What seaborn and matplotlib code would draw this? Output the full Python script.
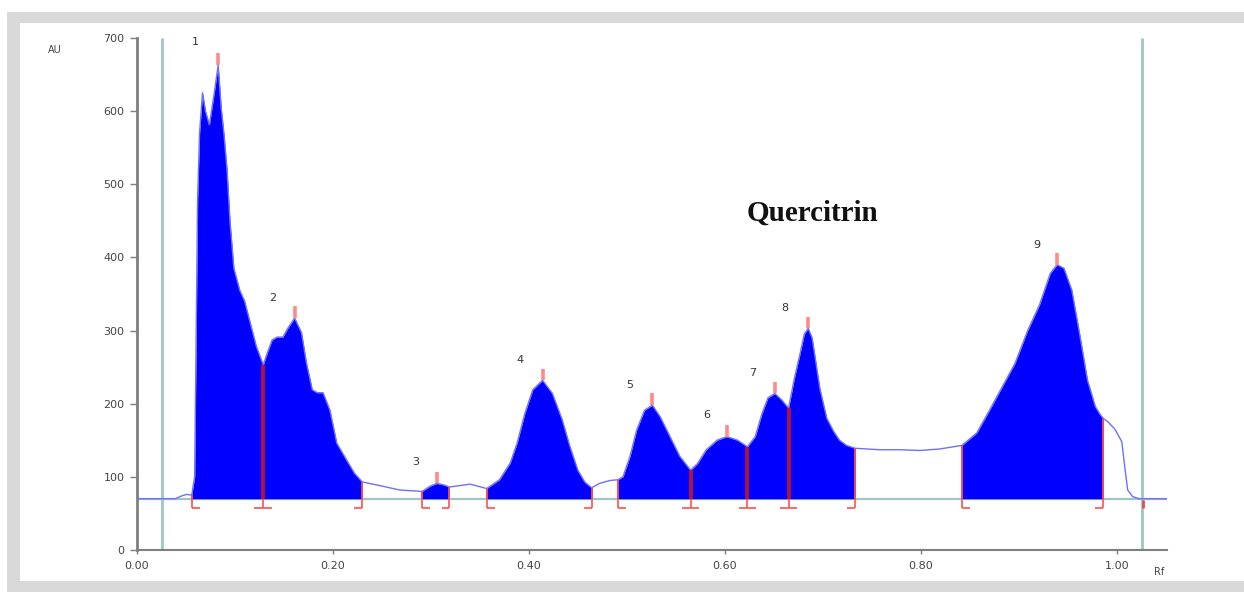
import numpy as np
import pandas as pd
import seaborn as sns
import matplotlib.pyplot as plt
from matplotlib.patches import Rectangle

# densitogram trace (Rf, AU)
rf = [0.000, 0.039, 0.046, 0.051, 0.056, 0.059, 0.062, 0.064, 0.067, 0.070,
      0.074, 0.079, 0.083, 0.086, 0.089, 0.092, 0.095, 0.099, 0.105, 0.110,
      0.115, 0.122, 0.129, 0.133, 0.138, 0.143, 0.149, 0.154, 0.161, 0.168,
      0.173, 0.179, 0.184, 0.190, 0.197, 0.204, 0.214, 0.222, 0.230, 0.248,
      0.268, 0.291, 0.299, 0.306, 0.313, 0.319, 0.340, 0.357, 0.370, 0.381,
      0.388, 0.396, 0.404, 0.414, 0.424, 0.434, 0.442, 0.450, 0.457, 0.464,
      0.472, 0.483, 0.491, 0.496, 0.503, 0.510, 0.518, 0.526, 0.534, 0.544,
      0.554, 0.565, 0.572, 0.581, 0.592, 0.602, 0.613, 0.623, 0.631, 0.638,
      0.644, 0.651, 0.658, 0.665, 0.671, 0.677, 0.681, 0.685, 0.689, 0.693,
      0.697, 0.704, 0.711, 0.717, 0.724, 0.733, 0.758, 0.779, 0.799, 0.819,
      0.842, 0.857, 0.870, 0.883, 0.896, 0.909, 0.921, 0.932, 0.939, 0.946,
      0.954, 0.962, 0.970, 0.978, 0.983, 0.986, 0.991, 0.998, 1.005, 1.008,
      1.011, 1.016, 1.023, 1.051]
au = [70, 70, 74, 76, 75, 100, 480, 570, 625, 600,
      581, 625, 663, 605, 567, 520, 450, 385, 355, 340,
      314, 278, 253, 269, 287, 291, 291, 303, 317, 297,
      256, 219, 215, 215, 191, 146, 123, 105, 93, 88,
      82, 80, 87, 91, 89, 86, 90, 84, 96, 119,
      146, 187, 219, 232, 214, 178, 141, 109, 93, 85,
      91, 95, 96, 100, 127, 164, 191, 198, 182, 155,
      128, 109, 118, 137, 150, 155, 150, 141, 155, 187,
      208, 214, 205, 194, 235, 270, 295, 303, 290, 255,
      220, 180, 162, 150, 143, 139, 137, 137, 136, 138,
      143, 160, 191, 223, 255, 300, 335, 378, 390, 385,
      355, 295, 232, 196, 185, 180, 175, 165, 148, 114,
      82, 73, 70, 70]

baseline = 70
fill_ranges = [(0.056, 0.230), (0.291, 0.319), (0.357, 0.464), (0.491, 0.733), (0.842, 0.986)]
bounds = [0.056, 0.129, 0.230, 0.291, 0.319, 0.357, 0.464, 0.491, 0.565, 0.623, 0.665, 0.733, 0.842, 0.986]
bound_kind = ['start', 'shared', 'end', 'start', 'end', 'start', 'end', 'start',
              'shared', 'shared', 'shared', 'end', 'start', 'end']
peak_rf = [0.083, 0.161, 0.306, 0.414, 0.526, 0.602, 0.651, 0.685, 0.939]
peak_au = [663, 317, 91, 232, 198, 155, 214, 303, 390]
peak_num = ['1', '2', '3', '4', '5', '6', '7', '8', '9']
num_rf = [0.060, 0.139, 0.285, 0.391, 0.503, 0.582, 0.628, 0.661, 0.918]
num_au = [695, 345, 120, 260, 226, 185, 242, 331, 417]

df = pd.DataFrame({'rf': rf, 'au': au})

sns.set_style('white')
fig = plt.figure(figsize=(12.44, 5.92), dpi=100)

# grey frame of the screenshot
frame = '#d9d9d9'
for x0, y0, w, h in [(0.0056, 0.961, 0.9944, 0.019), (0.0056, 0.0, 0.0105, 0.98), (0.0056, 0.0, 0.9944, 0.0186)]:
    fig.add_artist(Rectangle((x0, y0), w, h, transform=fig.transFigure, color=frame, lw=0, zorder=0))

ax = fig.add_axes([0.110, 0.071, 0.828, 0.865])

teal = '#9fc6c1'
ax.hlines(baseline, 0, 1.051, color=teal, lw=1.6, zorder=1)
ax.vlines([0.0255, 1.0255], 0, 700, color=teal, lw=2, zorder=1)

x = np.array(rf)
y = np.array(au)
for a, b in fill_ranges:
    m = (x >= a - 1e-9) & (x <= b + 1e-9)
    ax.fill_between(x, baseline, y, where=m, color='#0000ff', lw=0, zorder=2)

sns.lineplot(data=df, x='rf', y='au', color='#6f6fff', lw=1, estimator=None, sort=False, ax=ax, zorder=3)

# integration boundaries
for b, kind in zip(bounds, bound_kind):
    v = y[np.argmin(np.abs(x - b))]
    if kind == 'shared':
        ax.vlines(b, baseline, v, color='#b3103c', lw=2.8, zorder=4)
    else:
        ax.vlines(b, baseline, v, color='#f04a55', lw=1.4, zorder=4)
    ax.vlines(b, 57, baseline, color='#ff4f4f', lw=1.2, zorder=4)
    if kind == 'start':
        ax.hlines(57, b, b + 0.008, color='#ff4f4f', lw=1.2, zorder=4)
    elif kind == 'end':
        ax.hlines(57, b - 0.008, b, color='#ff4f4f', lw=1.2, zorder=4)
    else:
        ax.hlines(57, b - 0.009, b + 0.009, color='#ff4f4f', lw=1.2, zorder=4)
ax.vlines(1.0265, 57, 68, color='#e05050', lw=2, zorder=4)

# peak maxima ticks and numbers
ax.vlines(peak_rf, peak_au, np.array(peak_au) + 16, color='#ff8a8a', lw=2.6, zorder=4)
for r, v, n in zip(num_rf, num_au, peak_num):
    ax.text(r, v, n, fontsize=8, color='#333333', ha='center', va='center')

ax.text(0.689, 461, 'Quercitrin', fontfamily='Liberation Serif', fontweight='bold',
        fontsize=21, color='#111111', ha='center', va='center')

ax.set_xlim(0, 1.051)
ax.set_ylim(0, 700)
ax.set_xticks([0, 0.2, 0.4, 0.6, 0.8, 1.0])
ax.set_xticklabels(['0.00', '0.20', '0.40', '0.60', '0.80', '1.00'])
ax.set_yticks(range(0, 701, 100))
ax.set_xlabel('')
ax.set_ylabel('')
for s in ['top', 'right']:
    ax.spines[s].set_visible(False)
ax.spines['left'].set_color('#7f7f7f')
ax.spines['left'].set_linewidth(2)
ax.spines['bottom'].set_color('#7f7f7f')
ax.spines['bottom'].set_linewidth(1.5)
ax.tick_params(axis='y', direction='out', length=5, width=1, color='#7f7f7f',
               labelsize=8, labelcolor='#444444', pad=4, left=True)
ax.tick_params(axis='x', direction='out', length=3, width=1, color='#7f7f7f',
               labelsize=8, labelcolor='#444444', pad=5, bottom=True)

fig.text(0.044, 0.916, 'AU', fontsize=7, color='#444444', ha='center', va='center')
fig.text(0.932, 0.034, 'Rf', fontsize=7, color='#444444', ha='center', va='center')

fig.savefig('out.png', dpi=100)
